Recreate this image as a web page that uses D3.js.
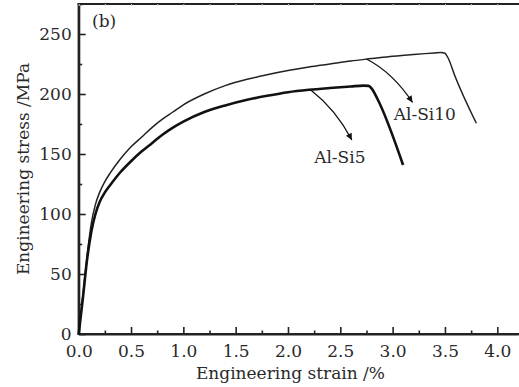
<!DOCTYPE html>
<html>
<head>
<meta charset="utf-8">
<script src="https://cdn.jsdelivr.net/npm/d3@7"></script>
<style>
  html, body { margin: 0; padding: 0; background: #fff; }
  svg { display: block; }
  text { font-family: "DejaVu Serif", "Liberation Serif", serif; fill: #2a2a2a; }
</style>
</head>
<body>
<svg id="chart" width="519" height="387"></svg>
<script>
// ---- data (strain %, stress MPa) ----
const si10Strain = [0, 0.04, 0.08, 0.12, 0.16, 0.20, 0.25, 0.30, 0.40, 0.50, 0.60, 0.70, 0.80, 0.90, 1.00, 1.20, 1.40, 1.60, 1.80, 2.00, 2.20, 2.40, 2.60, 2.80, 3.00, 3.20, 3.40, 3.46, 3.50, 3.53, 3.60, 3.80];
const si10Stress = [0, 32, 65, 92, 108, 118, 127, 134, 146, 156, 164, 172, 179, 185, 191, 200, 207, 212, 216, 219.5, 222.5, 225, 227.5, 229.5, 231.5, 233, 234.2, 234.6, 234, 230, 214, 175.6];

const si5Strain = [0, 0.04, 0.08, 0.12, 0.16, 0.20, 0.25, 0.30, 0.40, 0.50, 0.60, 0.70, 0.80, 0.90, 1.00, 1.20, 1.40, 1.60, 1.80, 2.00, 2.20, 2.40, 2.60, 2.72, 2.77, 2.80, 2.86, 3.10];
const si5Stress = [0, 30, 62, 85, 100, 110, 118, 124, 135, 144, 152, 159, 166, 172, 177, 185, 190.5, 195, 198.5, 201.5, 203.5, 205, 206.3, 207, 206.8, 204.5, 195, 140.8];

const xTicks = [0, 0.5, 1.0, 1.5, 2.0, 2.5, 3.0, 3.5, 4.0];
const xMinor = [0.25, 0.75, 1.25, 1.75, 2.25, 2.75, 3.25, 3.75];
const yTicks = [0, 50, 100, 150, 200, 250];
const yMinor = [25, 75, 125, 175, 225, 275];

const seriesNames = ["Al-Si10", "Al-Si5"];
// arrow annotations: start (on curve), control, tip, label anchor
const arrowStart = [[2.75, 229.2], [2.215, 203.6]];
const arrowCtrl  = [[3.00, 218.0], [2.46, 187.0]];
const arrowTip   = [[3.19, 193.0], [2.61, 161.7]];
const labelPos   = [[3.01, 178.5], [2.25, 142.8]];

// ---- layout ----
const svg = d3.select("#chart");
const mLeft = 78.7, mRight = 518.2, mTop = 4, mBottom = 334;
const x = d3.scaleLinear().domain([0, 4.2]).range([mLeft, mRight]);
const y = d3.scaleLinear().domain([0, 275]).range([mBottom, mTop]);
const ink = "#222";

// axes
const xAxis = svg.append("g").attr("transform", `translate(0,${mBottom})`)
  .call(d3.axisBottom(x).tickValues(xTicks).tickFormat(d3.format(".1f"))
    .tickSizeInner(-7).tickSizeOuter(0).tickPadding(11));
const xAxisMinor = svg.append("g").attr("transform", `translate(0,${mBottom})`)
  .call(d3.axisBottom(x).tickValues(xMinor).tickFormat("")
    .tickSizeInner(-3.5).tickSizeOuter(0));
const yAxis = svg.append("g").attr("transform", `translate(${mLeft},0)`)
  .call(d3.axisLeft(y).tickValues(yTicks)
    .tickSizeInner(-7).tickSizeOuter(0).tickPadding(7));
const yAxisMinor = svg.append("g").attr("transform", `translate(${mLeft},0)`)
  .call(d3.axisLeft(y).tickValues(yMinor).tickFormat("")
    .tickSizeInner(-3.5).tickSizeOuter(0));
const topAxis = svg.append("g").attr("transform", `translate(0,${mTop})`)
  .call(d3.axisTop(x).tickValues(xMinor.concat(xTicks)).tickFormat("")
    .tickSizeInner(-2).tickSizeOuter(0));

[xAxis, xAxisMinor, yAxis, yAxisMinor, topAxis].forEach(g => {
  g.select(".domain").attr("stroke", ink).attr("stroke-width", 2.2);
  g.selectAll(".tick line").attr("stroke", ink).attr("stroke-width", 1.6);
  g.selectAll(".tick text").attr("font-size", 17).attr("font-family", "DejaVu Serif").attr("fill", "#2a2a2a");
});
topAxis.selectAll(".tick line").attr("stroke", "#ccc").attr("stroke-width", 1);
// extend domain lines to meet at corners
xAxis.select(".domain").attr("d", `M${mLeft - 1.1},0H${mRight + 1}`);
topAxis.select(".domain").attr("d", `M${mLeft - 1.1},0H${mRight + 1}`);
yAxis.select(".domain").attr("d", `M0,${mBottom + 1}V${mTop - 1}`);

// curves
const line = d3.line().x(d => x(d[0])).y(d => y(d[1])).curve(d3.curveMonotoneX);
const si10 = si10Strain.map((v, i) => [v, si10Stress[i]]);
const si5 = si5Strain.map((v, i) => [v, si5Stress[i]]);

svg.append("path").datum(si10).attr("d", line)
  .attr("fill", "none").attr("stroke", ink).attr("stroke-width", 1.5).attr("stroke-linejoin", "round");
svg.append("path").datum(si5).attr("d", line)
  .attr("fill", "none").attr("stroke", "#111").attr("stroke-width", 2.6).attr("stroke-linejoin", "round");

// arrow marker
svg.append("defs").append("marker")
  .attr("id", "ah").attr("viewBox", "0 0 10 10").attr("refX", 10).attr("refY", 5)
  .attr("markerWidth", 9).attr("markerHeight", 6.5).attr("markerUnits", "userSpaceOnUse")
  .attr("orient", "auto")
  .append("path").attr("d", "M0,0L10,5L0,10Z").attr("fill", "#111");

seriesNames.forEach((name, i) => {
  const s = arrowStart[i], c = arrowCtrl[i], t = arrowTip[i];
  const p = d3.path();
  p.moveTo(x(s[0]), y(s[1]));
  p.quadraticCurveTo(x(c[0]), y(c[1]), x(t[0]), y(t[1]));
  svg.append("path").attr("d", p.toString())
    .attr("fill", "none").attr("stroke", "#111").attr("stroke-width", 1.3)
    .attr("marker-end", "url(#ah)");
  svg.append("text").attr("x", x(labelPos[i][0])).attr("y", y(labelPos[i][1]))
    .attr("font-size", 17).text(name);
});

// panel label
svg.append("text").attr("x", 92).attr("y", 27).attr("font-size", 17).text("(b)");

// axis titles
svg.append("text").attr("x", (mLeft + mRight) / 2 - 8).attr("y", 379)
  .attr("text-anchor", "middle").attr("font-size", 17).text("Engineering strain /%");
svg.append("text").attr("transform", `translate(29,${(mTop + mBottom) / 2}) rotate(-90)`)
  .attr("text-anchor", "middle").attr("font-size", 17).text("Engineering stress /MPa");
</script>
</body>
</html>
